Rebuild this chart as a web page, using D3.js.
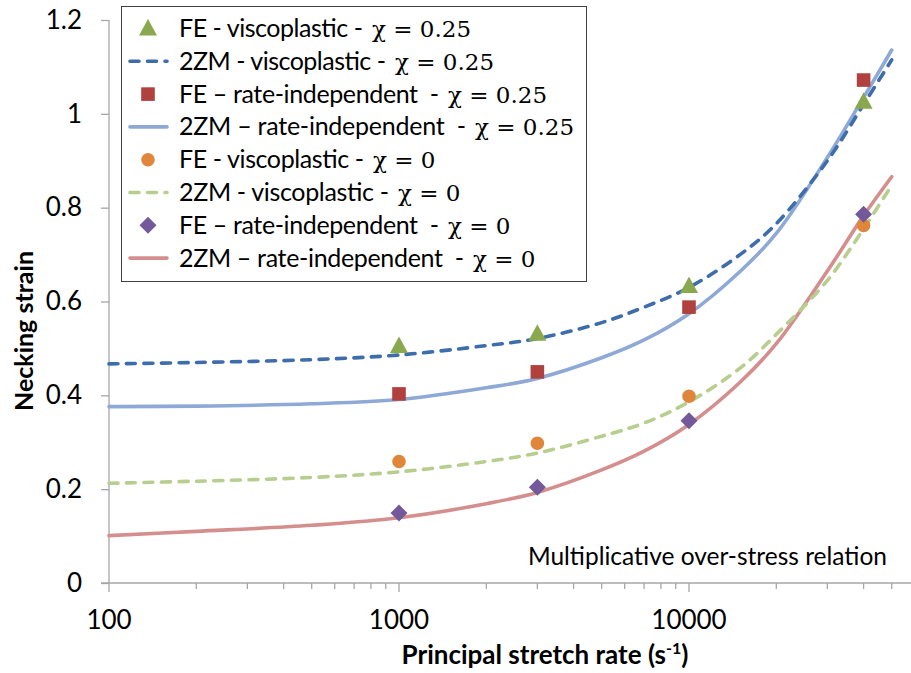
<!DOCTYPE html>
<html>
<head>
<meta charset="utf-8">
<script src="https://cdn.jsdelivr.net/npm/d3@7"></script>
<style>
  html, body { margin: 0; padding: 0; background: #fff; }
  svg { display: block; }
  text { font-family: Lato, "Open Sans", sans-serif; fill: #000; }
  text.math { font-family: "DejaVu Serif", "Liberation Serif", serif; }
</style>
</head>
<body>
<svg id="chart" width="911" height="673"></svg>
<script>
// ---- data ----
const feRates = [1000, 3000, 10000, 40000];
const feViscChi025 = [0.505, 0.531, 0.633, 1.026];
const feRateIndChi025 = [0.403, 0.450, 0.588, 1.072];
const feViscChi0 = [0.259, 0.298, 0.398, 0.762];
const feRateIndChi0 = [0.149, 0.204, 0.346, 0.786];

const zmRates = [100, 200, 500, 1000, 2000, 3000, 5000, 7000, 10000, 15000, 20000, 30000, 40000, 50000];
const zmViscChi025 = [0.467, 0.470, 0.476, 0.486, 0.506, 0.521, 0.555, 0.588, 0.630, 0.700, 0.766, 0.900, 1.020, 1.115];
const zmRateIndChi025 = [0.376, 0.377, 0.382, 0.391, 0.416, 0.436, 0.480, 0.518, 0.574, 0.664, 0.745, 0.907, 1.035, 1.136];
const zmViscChi0 = [0.2125, 0.217, 0.225, 0.237, 0.259, 0.277, 0.313, 0.341, 0.386, 0.458, 0.530, 0.645, 0.755, 0.848];
const zmRateIndChi0 = [0.101, 0.110, 0.123, 0.139, 0.169, 0.193, 0.241, 0.281, 0.338, 0.428, 0.510, 0.665, 0.783, 0.866];

const yTicks = [0, 0.2, 0.4, 0.6, 0.8, 1, 1.2];
const yTickLabels = ["0", "0.2", "0.4", "0.6", "0.8", "1", "1.2"];
const xMajorTicks = [100, 1000, 10000];
const xTickLabels = ["100", "1000", "10000"];

const legendNames = [
  "FE - viscoplastic -", "2ZM - viscoplastic -", "FE \u2013 rate-independent  -", "2ZM \u2013 rate-independent  -",
  "FE - viscoplastic -", "2ZM - viscoplastic -", "FE \u2013 rate-independent  -", "2ZM \u2013 rate-independent  -"
];
const legendChi = ["χ = 0.25", "χ = 0.25", "χ = 0.25", "χ = 0.25", "χ = 0", "χ = 0", "χ = 0", "χ = 0"];

// ---- layout / style (not data) ----
const legendStyle = [
  {kind: "marker", shape: "triangle", color: "#8AA84E"},
  {kind: "line", dash: true, color: "#3D6DAA"},
  {kind: "marker", shape: "square", color: "#B0413E"},
  {kind: "line", dash: false, color: "#8EA9D6"},
  {kind: "marker", shape: "circle", color: "#E0863A"},
  {kind: "line", dash: true, color: "#B7CE8F"},
  {kind: "marker", shape: "diamond", color: "#73599A"},
  {kind: "line", dash: false, color: "#D48E8E"}
];
const legendChiX = [372, 395, 448, 475, 373, 398, 448, 473];

// ---- scales ----
const svg = d3.select("#chart");
const x = d3.scaleLog().domain([100, 100000]).range([109, 979]);
const y = d3.scaleLinear().domain([0, 1.2]).range([583, 20]);
const axisColor = "#A6A6A6";

// y axis
const yAxis = svg.append("g").attr("transform", "translate(109,0)")
  .call(d3.axisLeft(y).tickValues(yTicks).tickFormat((d, i) => yTickLabels[i]).tickSize(8).tickPadding(19));
yAxis.select(".domain").attr("stroke", axisColor).attr("stroke-width", 1.3).attr("d", "M0,20V583");
yAxis.selectAll(".tick line").attr("stroke", axisColor).attr("stroke-width", 1.3);
yAxis.selectAll(".tick text").attr("font-size", 26).attr("fill", "#000");

// x axis
const minorTicks = [];
[100, 1000, 10000].forEach(d => { for (let k = 2; k <= 9; k++) minorTicks.push(d * k); });
const xg = svg.append("g").attr("transform", "translate(0,583)");
xg.append("line").attr("x1", 101).attr("x2", 911).attr("y1", 0).attr("y2", 0)
  .attr("stroke", axisColor).attr("stroke-width", 1.3);
xg.selectAll(".minor").data(minorTicks).enter().append("line")
  .attr("x1", d => x(d)).attr("x2", d => x(d)).attr("y1", 0).attr("y2", 6)
  .attr("stroke", axisColor).attr("stroke-width", 1.3);
xg.selectAll(".major").data(xMajorTicks).enter().append("line")
  .attr("x1", d => x(d)).attr("x2", d => x(d)).attr("y1", 0).attr("y2", 9)
  .attr("stroke", axisColor).attr("stroke-width", 1.3);
xg.selectAll(".xlab").data(xMajorTicks).enter().append("text")
  .attr("x", d => x(d)).attr("y", 46).attr("text-anchor", "middle")
  .attr("font-size", 26).text((d, i) => xTickLabels[i]);

// axis titles
svg.append("text").attr("transform", "translate(33,331) rotate(-90)")
  .attr("text-anchor", "middle").attr("font-size", 25).attr("font-weight", "bold")
  .text("Necking strain");
const xt = svg.append("text").attr("x", 545).attr("y", 664).attr("text-anchor", "middle")
  .attr("font-size", 26).attr("font-weight", "bold");
xt.append("tspan").text("Principal stretch rate (s");
xt.append("tspan").attr("font-size", 16).attr("dy", -10).text("-1");
xt.append("tspan").attr("dy", 10).text(")");

// annotation
svg.append("text").attr("x", 887).attr("y", 565).attr("text-anchor", "end")
  .attr("font-size", 24.5).text("Multiplicative over-stress relation");

// ---- curves ----
const line = d3.line().x(d => x(d[0])).y(d => y(d[1])).curve(d3.curveCatmullRom.alpha(0.5));
const curves = [
  {vals: zmRateIndChi0, color: "#D48E8E", dash: false},
  {vals: zmViscChi0, color: "#B7CE8F", dash: true},
  {vals: zmRateIndChi025, color: "#8EA9D6", dash: false},
  {vals: zmViscChi025, color: "#3D6DAA", dash: true}
];
curves.forEach(c => {
  svg.append("path").datum(zmRates.map((r, i) => [r, c.vals[i]]))
    .attr("d", line).attr("fill", "none").attr("stroke", c.color)
    .attr("stroke-width", 3.6)
    .attr("stroke-linecap", "round")
    .attr("stroke-dasharray", c.dash ? "9,8.5" : null);
});

// ---- markers ----
function markerPath(shape) {
  if (shape === "triangle") return "M0,-9.5L9,7L-9,7Z";
  if (shape === "square") return "M-6.8,-6.8H6.8V6.8H-6.8Z";
  if (shape === "diamond") return "M0,-8.5L8.5,0L0,8.5L-8.5,0Z";
  return d3.symbol().type(d3.symbolCircle).size(Math.PI * 6.8 * 6.8)();
}
const markerSeries = [
  {vals: feViscChi025, shape: "triangle", color: "#8AA84E"},
  {vals: feRateIndChi025, shape: "square", color: "#B0413E"},
  {vals: feViscChi0, shape: "circle", color: "#E0863A"},
  {vals: feRateIndChi0, shape: "diamond", color: "#73599A"}
];
markerSeries.forEach(s => {
  svg.append("g").selectAll("path").data(feRates.map((r, i) => [r, s.vals[i]])).enter()
    .append("path").attr("d", markerPath(s.shape))
    .attr("transform", d => `translate(${x(d[0])},${y(d[1])})`)
    .attr("fill", s.color);
});

// ---- legend ----
const lg = svg.append("g");
lg.append("rect").attr("x", 121.5).attr("y", 6.5).attr("width", 465).attr("height", 275)
  .attr("fill", "#fff").attr("stroke", "#404040").attr("stroke-width", 1);
legendStyle.forEach((it, i) => {
  const cy = 28.5 + i * 32.8;
  if (it.kind === "marker") {
    lg.append("path").attr("d", markerPath(it.shape))
      .attr("transform", `translate(148,${cy})`).attr("fill", it.color);
  } else {
    lg.append("line").attr("x1", 130).attr("x2", 167).attr("y1", cy).attr("y2", cy)
      .attr("stroke", it.color).attr("stroke-width", 3.6).attr("stroke-linecap", "round")
      .attr("stroke-dasharray", it.dash ? "9,8.5" : null);
  }
  lg.append("text").attr("x", 179).attr("y", cy + 8.5).attr("font-size", 25)
    .style("white-space", "pre")
    .attr("textLength", legendChiX[i] - 9 - 179).attr("lengthAdjust", "spacing")
    .text(legendNames[i]);
  lg.append("text").attr("class", "math").attr("x", legendChiX[i]).attr("y", cy + 8.5)
    .attr("font-size", 23)
    .style("white-space", "pre")
    .text(legendChi[i]);
});
</script>
</body>
</html>
